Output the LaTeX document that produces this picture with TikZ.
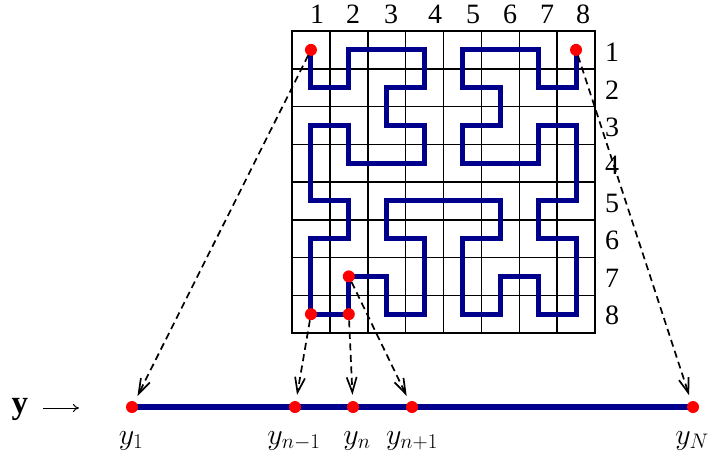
\documentclass[tikz,border=0pt]{standalone}
\usepackage{fix-cm}
\usepackage{fontspec}
\setmainfont{Liberation Serif}
\usetikzlibrary{arrows.meta,backgrounds}
\definecolor{hblue}{RGB}{0,0,140}
\begin{document}
\begin{tikzpicture}[x=1pt,y=-1pt,
  reddot/.style={circle,fill=red,inner sep=0pt,minimum size=12pt},
  numlab/.style={font=\fontsize{28}{30}\selectfont,anchor=base,inner sep=0pt},
  ylab/.style={font=\fontsize{30}{32}\selectfont,anchor=base,inner sep=0pt},
  maparrow/.style={draw=black,line width=1.7pt,dash pattern=on 7pt off 4.5pt,
     -{Straight Barb[length=15pt,width=10pt,line width=1.7pt]},shorten >=6pt},
  hcurve/.style={draw=hblue,line width=5pt,line join=miter},
  gridline/.style={draw=black,line width=1.5pt}]
\useasboundingbox (0,0) rectangle (709,459);

% grid, curve and dots
\begin{scope}[shift={(292,31)},x=37.875pt,y=-37.75pt]
  \foreach \i in {1,...,7} {
    \draw[gridline] (\i,0) -- (\i,8);
    \draw[gridline] (0,\i) -- (8,\i);
  }
  \draw[line width=2.8pt] (0,0) rectangle (8,8);
  \begin{scope}[shift={(-0.5,-0.5)}]
    \draw[hcurve] (1,1) -- (1,2) -- (2,2) -- (2,1) -- (4,1) -- (4,2) -- (3,2)
      -- (3,3) -- (4,3) -- (4,4) -- (2,4) -- (2,3) -- (1,3) -- (1,5) -- (2,5)
      -- (2,6) -- (1,6) -- (1,8) -- (2,8) -- (2,7) -- (3,7) -- (3,8) -- (4,8)
      -- (4,6) -- (3,6) -- (3,5) -- (6,5) -- (6,6) -- (5,6) -- (5,8) -- (6,8)
      -- (6,7) -- (7,7) -- (7,8) -- (8,8) -- (8,6) -- (7,6) -- (7,5) -- (8,5)
      -- (8,3) -- (7,3) -- (7,4) -- (5,4) -- (5,3) -- (6,3) -- (6,2) -- (5,2)
      -- (5,1) -- (7,1) -- (7,2) -- (8,2) -- (8,1);
    \node[reddot] (d11) at (1,1) {};
    \node[reddot] (d81) at (8,1) {};
    \node[reddot] (d18) at (1,8) {};
    \node[reddot] (d28) at (2,8) {};
    \node[reddot] (d27) at (2,7) {};
  \end{scope}
\end{scope}

% column labels
\foreach \x [count=\k] in {317,353,391,435,473,510,547,583}
  \node[numlab] (c\k) at (\x,23) {\k};
% row labels
\foreach \y [count=\k] in {61,99,136,174,212,249,287,324}
  \node[numlab] (r\k) at (612,\y) {\k};

% the line y
\node[reddot] (b1) at (132,407) {};
\node[reddot] (bm) at (295,407) {};
\node[reddot] (bn) at (353,407) {};
\node[reddot] (bp) at (412,407) {};
\node[reddot] (bN) at (693,407) {};
\begin{scope}[on background layer]
  \draw[hblue,line width=5.5pt] (b1.center) -- (bN.center);
\end{scope}

\node[ylab] (l1) at (131,444) {$y_1$};
\node[ylab] (lm) at (294,444) {$y_{n-1}$};
\node[ylab] (ln) at (357,444) {$y_n$};
\node[ylab] (lp) at (412,444) {$y_{n+1}$};
\node[ylab] (lN) at (692,444) {$y_N$};

\node[font=\fontsize{33}{35}\selectfont,anchor=base,inner sep=0pt] (yv) at (20,413) {$\mathbf{y}$};
\coordinate (ya) at (43,408);
\coordinate (yb) at (79,408);
\draw[line width=1pt,-{To[length=6pt,width=8pt]}] (ya) -- (yb);

% mapping arrows
\draw[maparrow] (d11) -- (b1);
\draw[maparrow] (d81) -- (bN);
\draw[maparrow] (d18) -- (bm);
\draw[maparrow] (d28) -- (bn);
\draw[maparrow] (d27) -- (bp);
\end{tikzpicture}
\end{document}
